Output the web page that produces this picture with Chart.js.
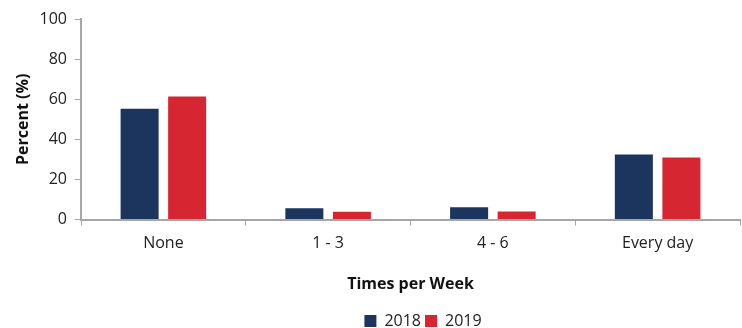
<!DOCTYPE html>
<html>
<head>
<meta charset="utf-8">
<script src="https://cdn.jsdelivr.net/npm/chart.js@4/dist/chart.umd.min.js"></script>
<style>
  html, body { margin: 0; padding: 0; background: #fff; }
  #wrap { width: 742px; height: 328px; position: relative; }
</style>
</head>
<body>
<div id="wrap"><canvas id="c"></canvas></div>
<script>
const categories = ['None', '1 - 3', '4 - 6', 'Every day'];
const values2018 = [55.3, 5.7, 6.1, 32.5];
const values2019 = [61.4, 3.9, 4.0, 31.0];
const yTicks = [0, 20, 40, 60, 80, 100];

const FONT = '"Open Sans", "Noto Sans", sans-serif';
const AXIS = '#a6a6a6';
const PAD_LEFT = 14;
const LEGEND_SHIFT = 46;

// Nudge the legend to the right of the canvas centre
const legendShift = {
  id: 'legendShift',
  afterLayout(chart) {
    const lg = chart.legend;
    if (lg) { lg.left += LEGEND_SHIFT; lg.right += LEGEND_SHIFT; }
  }
};

new Chart(document.getElementById('c'), {
  type: 'bar',
  data: {
    labels: categories,
    datasets: [
      { label: '2018', data: values2018, backgroundColor: '#1c355e' },
      { label: '2019', data: values2019, backgroundColor: '#d62631' }
    ]
  },
  plugins: [legendShift],
  options: {
    responsive: true,
    maintainAspectRatio: false,
    animation: false,
    datasets: { bar: { categoryPercentage: 0.577, barPercentage: 0.8 } },
    layout: { padding: { left: PAD_LEFT, right: 2, top: 19, bottom: -11 } },
    plugins: {
      tooltip: { enabled: false },
      legend: {
        position: 'bottom',
        labels: {
          boxWidth: 12, boxHeight: 12, padding: 4,
          color: '#222', font: { family: FONT, size: 16 }
        }
      }
    },
    scales: {
      x: {
        grid: { display: true, drawOnChartArea: false, drawTicks: true, tickLength: 6, color: AXIS, lineWidth: 1 },
        border: { display: true, color: AXIS, width: 2 },
        ticks: { color: '#222', font: { family: FONT, size: 16 }, padding: 8 },
        title: { display: true, text: 'Times per Week', color: '#111', font: { family: FONT, size: 16, weight: 'bold' }, padding: { top: 14, bottom: 15 } }
      },
      y: {
        min: 0, max: 100,
        afterBuildTicks: s => { s.ticks = yTicks.map(v => ({ value: v })); },
        afterFit: s => { s.width = 81 - PAD_LEFT; },
        grid: { display: true, drawOnChartArea: false, drawTicks: true, tickLength: 6, color: AXIS },
        border: { display: true, color: AXIS, width: 2 },
        ticks: { color: '#222', font: { family: FONT, size: 16 }, padding: 8 },
        title: { display: true, text: 'Percent (%)', color: '#111', font: { family: FONT, size: 16, weight: 'bold' }, padding: { top: 0, bottom: 4 } }
      }
    }
  }
});
</script>
</body>
</html>
